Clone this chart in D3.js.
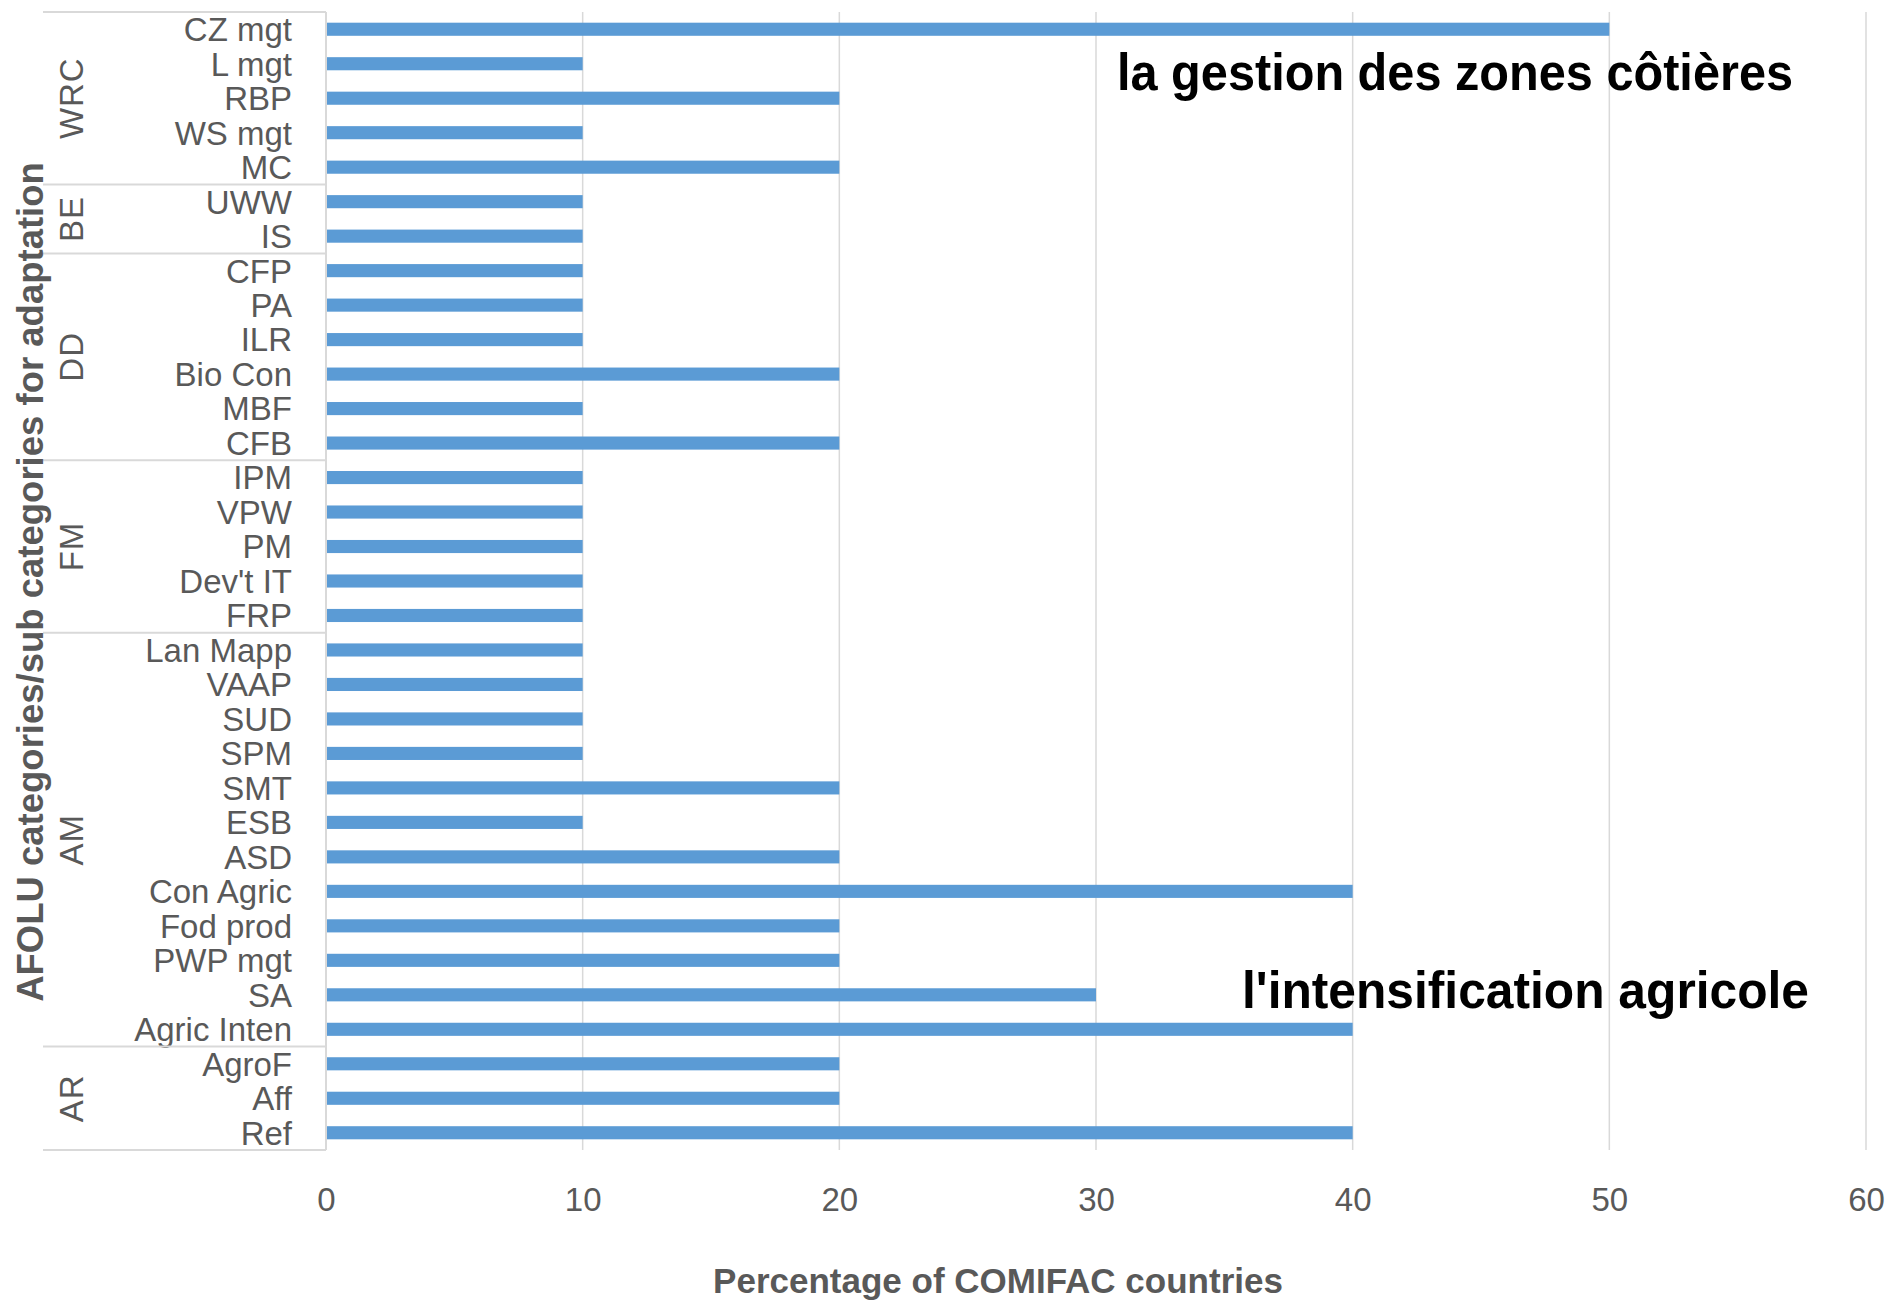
<!DOCTYPE html>
<meta charset="utf-8">
<style>
body { margin: 0; background: #fff; }
text { font-family: "Liberation Sans", Arial, sans-serif; }
.cat { fill: #595959; font-size: 33px; }
.title { fill: #595959; font-weight: bold; }
.note { fill: #000; font-size: 52px; font-weight: bold; }
</style>
<svg width="1891" height="1300"></svg>
<script src="https://d3js.org/d3.v7.min.js"></script>
<script>

// groups, top to bottom
var groups = ["WRC", "BE", "DD", "FM", "AM", "AR"];
var groupSizes = [5, 2, 6, 5, 12, 3];

var categories = ["CZ mgt", "L mgt", "RBP", "WS mgt", "MC",
  "UWW", "IS",
  "CFP", "PA", "ILR", "Bio Con", "MBF", "CFB",
  "IPM", "VPW", "PM", "Dev't IT", "FRP",
  "Lan Mapp", "VAAP", "SUD", "SPM", "SMT", "ESB", "ASD", "Con Agric", "Fod prod", "PWP mgt", "SA", "Agric Inten",
  "AgroF", "Aff", "Ref"];

var values = [50, 10, 20, 10, 20,
  10, 10,
  10, 10, 10, 20, 10, 20,
  10, 10, 10, 10, 10,
  10, 10, 10, 10, 20, 10, 20, 40, 20, 20, 30, 40,
  20, 20, 40];

var xTicks = [0, 10, 20, 30, 40, 50, 60];

var svg = d3.select("svg"),
    plotLeft = 326, plotRight = 1866, plotTop = 12, plotBottom = 1150, frameLeft = 43;

var x = d3.scaleLinear().domain([0, 60]).range([plotLeft, plotRight]);
var y = d3.scaleBand().domain(categories).range([plotTop, plotBottom]).paddingInner(0.62).paddingOuter(0.31);
var step = y.step();

// gridlines
svg.append("g").selectAll("line")
  .data(xTicks.slice(1))
  .enter().append("line")
    .attr("x1", d => x(d)).attr("x2", d => x(d))
    .attr("y1", plotTop).attr("y2", plotBottom)
    .attr("stroke", "#d9d9d9").attr("stroke-width", 1.5);

// bars
svg.append("g").selectAll("rect")
  .data(categories)
  .enter().append("rect")
    .attr("x", x(0))
    .attr("y", d => y(d))
    .attr("height", y.bandwidth())
    .attr("width", (d, i) => x(values[i]) - x(0))
    .attr("fill", "#5b9bd5");

// x tick labels
var xAxis = svg.append("g")
    .attr("transform", "translate(0," + (plotBottom + 38) + ")")
    .call(d3.axisBottom(x).tickValues(xTicks).tickSize(0).tickPadding(0));
xAxis.select(".domain").remove();
xAxis.selectAll("text")
    .attr("font-size", null).attr("font-family", null)
    .attr("dy", "0.71em")
    .style("font-size", "33px").style("fill", "#595959");

// category labels
svg.append("g").selectAll("text")
  .data(categories)
  .enter().append("text")
    .attr("class", "cat")
    .attr("x", 292)
    .attr("y", d => y(d) + y.bandwidth() / 2)
    .attr("dy", "0.36em")
    .attr("text-anchor", "end")
    .text(d => d);

// category axis line and group separators
var bounds = [0];
groupSizes.forEach(function(n, i) { bounds.push(bounds[i] + n); });

var frame = svg.append("g").attr("stroke", "#d9d9d9").attr("stroke-width", 2);
frame.append("line").attr("x1", plotLeft).attr("x2", plotLeft).attr("y1", plotTop).attr("y2", plotBottom);
frame.selectAll(".sep")
  .data(bounds)
  .enter().append("line")
    .attr("x1", frameLeft).attr("x2", plotLeft)
    .attr("y1", d => plotTop + d * step).attr("y2", d => plotTop + d * step);

// group labels
svg.append("g").selectAll("text")
  .data(groups)
  .enter().append("text")
    .attr("class", "cat")
    .attr("transform", (d, i) => "translate(83," + (plotTop + (bounds[i] + bounds[i + 1]) / 2 * step) + ") rotate(-90)")
    .attr("text-anchor", "middle")
    .attr("letter-spacing", "1px")
    .text(d => d);

// axis titles
svg.append("text")
    .attr("class", "title")
    .style("font-size", "36.5px")
    .attr("transform", "translate(43,582) rotate(-90)")
    .attr("text-anchor", "middle")
    .text("AFOLU categories/sub categories for adaptation");

svg.append("text")
    .attr("class", "title")
    .style("font-size", "35px")
    .attr("x", 998).attr("y", 1293)
    .attr("text-anchor", "middle")
    .text("Percentage of COMIFAC countries");

// annotations
svg.append("text")
    .attr("class", "note")
    .attr("x", 1117).attr("y", 90)
    .attr("textLength", 676).attr("lengthAdjust", "spacingAndGlyphs")
    .text("la gestion des zones côtières");

svg.append("text")
    .attr("class", "note")
    .attr("x", 1242).attr("y", 1008)
    .attr("textLength", 567).attr("lengthAdjust", "spacingAndGlyphs")
    .text("l'intensification agricole");

</script>
